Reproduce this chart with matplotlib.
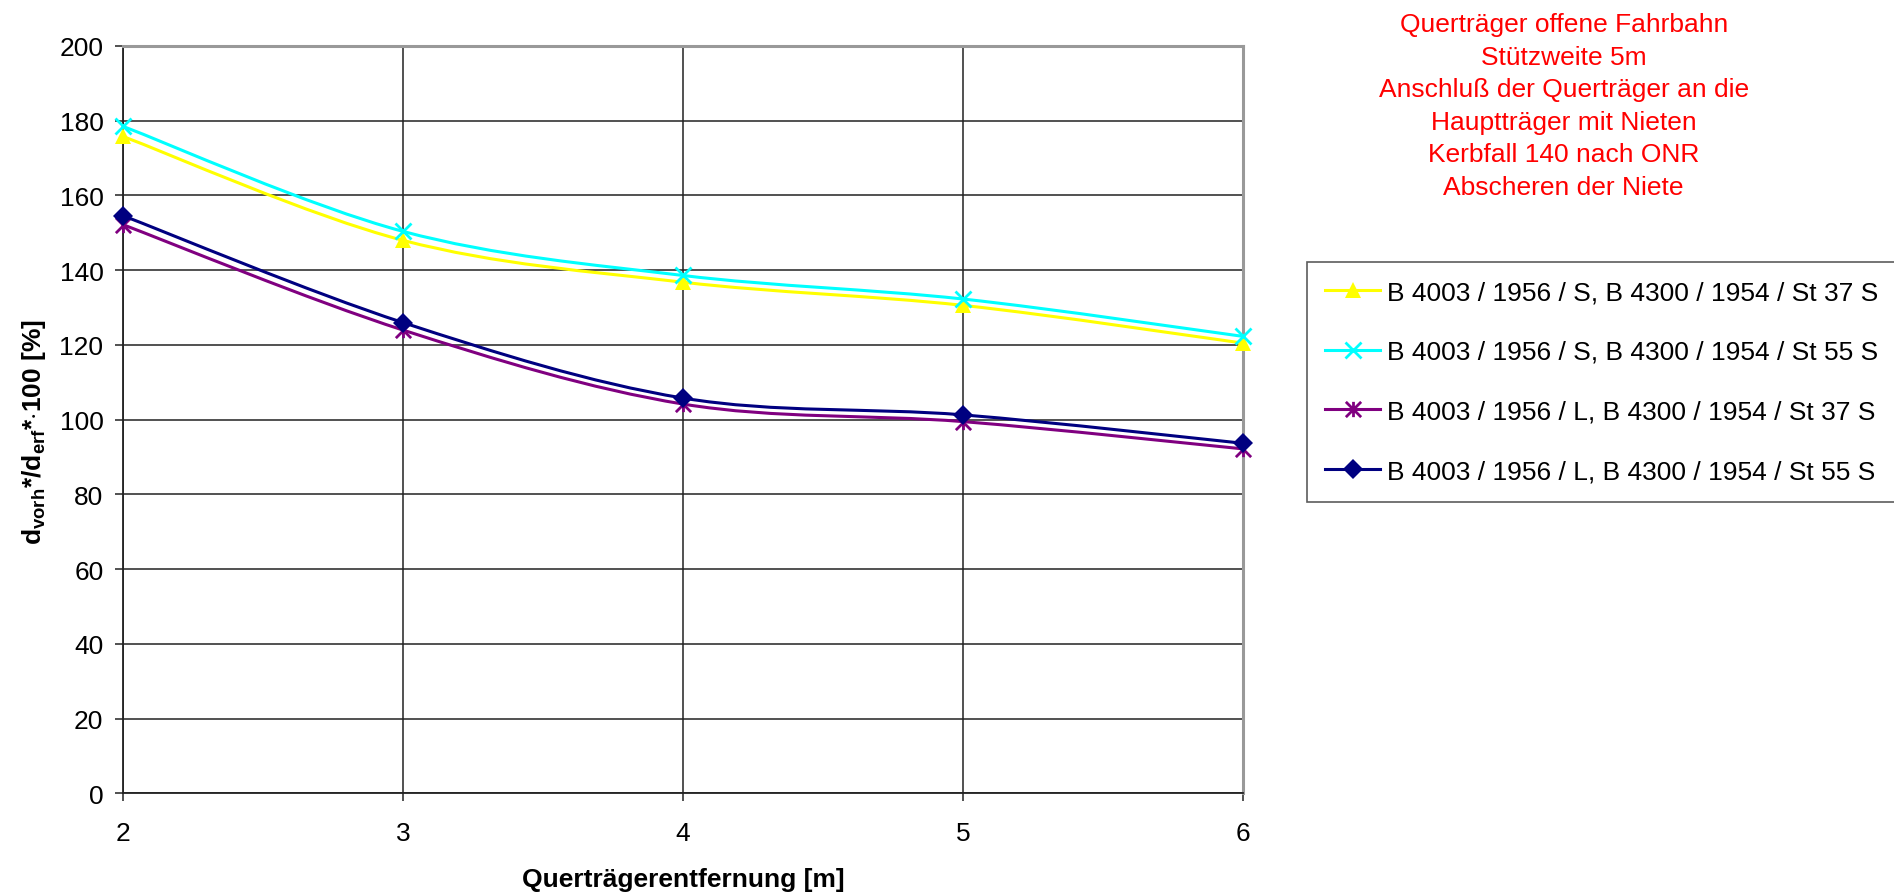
import matplotlib as mpl
import matplotlib.pyplot as plt
from matplotlib.path import Path
from matplotlib.patches import PathPatch
from matplotlib.lines import Line2D

mpl.rcParams['font.family'] = 'Liberation Sans'
mpl.rcParams['mathtext.fontset'] = 'custom'
mpl.rcParams['mathtext.rm'] = 'Liberation Sans'
mpl.rcParams['mathtext.bf'] = 'Liberation Sans:bold'

# Data
abstand = [2, 3, 4, 5, 6]
s_st37 = [175.8, 148.0, 136.8, 130.6, 120.5]
s_st55 = [178.5, 150.4, 138.6, 132.3, 122.3]
l_st37 = [152.2, 124.0, 104.2, 99.5, 92.2]
l_st55 = [154.6, 126.0, 105.8, 101.3, 93.7]

labels = ['B 4003 / 1956 / S, B 4300 / 1954 / St 37 S',
          'B 4003 / 1956 / S, B 4300 / 1954 / St 55 S',
          'B 4003 / 1956 / L, B 4300 / 1954 / St 37 S',
          'B 4003 / 1956 / L, B 4300 / 1954 / St 55 S']
colors = ['#FFFF00', '#00FFFF', '#800080', '#000080']

title_lines = ['Querträger offene Fahrbahn', 'Stützweite 5m',
               'Anschluß der Querträger an die', 'Hauptträger mit Nieten',
               'Kerbfall 140 nach ONR', 'Abscheren der Niete']

# asterisk marker like the spreadsheet one (x plus vertical bar)
star = Path([(-1, -1), (1, 1), (-1, 1), (1, -1), (0, -1), (0, 1)],
            [Path.MOVETO, Path.LINETO] * 3)
markers = [dict(marker='^', ms=11, mew=0),
           dict(marker='x', ms=11, mew=2),
           dict(marker=star, ms=11, mew=2),
           dict(marker='D', ms=10, mew=0)]


def smooth_path(x, y):
    # spreadsheet style smoothed line: cubic bezier through the points
    n = len(x)
    verts = [(x[0], y[0])]
    codes = [Path.MOVETO]
    for i in range(n - 1):
        i0 = max(i - 1, 0)
        i3 = min(i + 2, n - 1)
        c1 = (x[i] + (x[i + 1] - x[i0]) / 6, y[i] + (y[i + 1] - y[i0]) / 6)
        c2 = (x[i + 1] - (x[i3] - x[i]) / 6, y[i + 1] - (y[i3] - y[i]) / 6)
        verts += [c1, c2, (x[i + 1], y[i + 1])]
        codes += [Path.CURVE4] * 3
    return Path(verts, codes)


fig = plt.figure(figsize=(18.94, 8.95), dpi=100)
ax = fig.add_axes([0.0649, 0.1123, 0.5914, 0.8352])

handles = []
for k, ys in enumerate([s_st37, s_st55, l_st37, l_st55]):
    ax.add_patch(PathPatch(smooth_path(abstand, ys), facecolor='none',
                           edgecolor=colors[k], lw=2.2, zorder=3 + k))
    ax.plot(abstand, ys, ls='none', color=colors[k], mec=colors[k],
            zorder=3 + k, clip_on=False, **markers[k])
    handles.append(Line2D([], [], color=colors[k], mec=colors[k], lw=2.2,
                          **markers[k]))

ax.set_xlim(2, 6)
ax.set_ylim(0, 200)
ax.set_xticks(abstand)
ax.set_yticks(range(0, 201, 20))
ax.grid(True, color='#222222', lw=1.1)
ax.set_axisbelow(True)
ax.tick_params(axis='both', labelsize=19, direction='out', length=6,
               width=1.1, color='#222222')
ax.tick_params(axis='x', pad=14)
ax.tick_params(axis='y', pad=8)

for side in ['left', 'bottom']:
    ax.spines[side].set_color('#222222')
    ax.spines[side].set_linewidth(1.3)
for side in ['right', 'top']:
    ax.spines[side].set_color('#999999')
    ax.spines[side].set_linewidth(2.2)

ax.set_xlabel('Querträgerentfernung [m]', fontsize=19, fontweight='bold')
ax.xaxis.set_label_coords(0.5, -0.099)
ax.set_ylabel(r'd$_{\mathbf{vorh}}$*/d$_{\mathbf{erf}}$*$\cdot$100 [%]',
              fontsize=19, fontweight='bold')
ax.yaxis.set_label_coords(-0.067, 0.485)

for i, line in enumerate(title_lines):
    fig.text(0.8256, 1 - (32 + 32.6 * i) / 895, line, color='#FF0000',
             fontsize=19, ha='center', va='baseline')

leg = fig.legend(handles, labels, loc='upper left',
                 bbox_to_anchor=(0.69, 0.7065), fontsize=19, frameon=True,
                 fancybox=False, borderpad=0.7, labelspacing=1.35,
                 handlelength=2.07, handletextpad=0.25, borderaxespad=0)
leg.get_frame().set_edgecolor('#333333')
leg.get_frame().set_linewidth(1.2)

plt.savefig('out.png', dpi=100)
plt.close(fig)
